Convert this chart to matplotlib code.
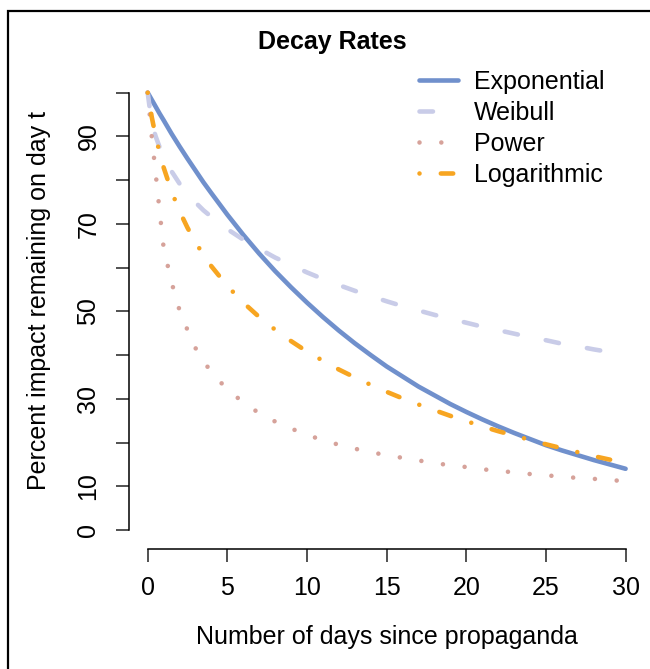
import matplotlib
matplotlib.use("Agg")
import matplotlib.pyplot as plt
from matplotlib.patches import Rectangle

# ------------------------------- DATA -------------------------------------- #
days = [0, 0.25, 0.5, 0.75, 1, 1.5, 2, 2.5, 3, 3.5, 4,
        5, 6, 7, 8, 9, 10, 11, 12, 13, 14, 15, 16, 17, 18, 19,
        20, 21, 22, 23, 24, 25, 26, 27, 28, 29, 30]

exponential = [100, 98.4, 96.8, 95.2, 93.7, 90.6, 87.7, 84.9, 82.2, 79.5, 77.0,
               72.1, 67.5, 63.2, 59.2, 55.5, 52.0, 48.7, 45.6, 42.7, 40.0, 37.4,
               35.1, 32.8, 30.8, 28.8, 27.0, 25.3, 23.7, 22.2, 20.8, 19.4, 18.2,
               17.1, 16.0, 15.0, 14.0]
weibull = [100, 93.0, 90.0, 87.5, 85.5, 82.0, 79.2, 76.9, 74.9, 73.1, 71.6,
           68.8, 66.4, 64.3, 62.3, 60.6, 58.9, 57.4, 56.0, 54.7, 53.5, 52.3,
           51.2, 50.2, 49.2, 48.3, 47.4, 46.5, 45.7, 44.9, 44.1, 43.4, 42.6,
           42.0, 41.3, 40.7, 40.0]
power = [100, 90.1, 81.5, 72.8, 64.5, 56.6, 50.2, 45.7, 41.6, 38.6, 36.1,
         32.1, 29.2, 26.7, 24.8, 23.2, 21.8, 20.5, 19.5, 18.6, 17.8, 17.1,
         16.5, 15.9, 15.3, 14.8, 14.4, 13.9, 13.5, 13.2, 12.8, 12.5, 12.2,
         11.9, 11.7, 11.4, 11.2]
logarithmic = [100, 94.5, 90.0, 86.2, 82.9, 77.4, 72.9, 69.1, 65.8, 62.9, 60.3,
               55.8, 52.0, 48.7, 45.8, 43.2, 40.8, 38.7, 36.7, 34.9, 33.2, 31.6,
               30.1, 28.7, 27.4, 26.1, 24.9, 23.7, 22.6, 21.6, 20.6, 19.6, 18.7,
               17.8, 16.9, 16.1, 15.3]

series_names = ["Exponential", "Weibull", "Power", "Logarithmic"]
x_ticks = [0, 5, 10, 15, 20, 25, 30]
y_ticks = [0, 10, 20, 30, 40, 50, 60, 70, 80, 90, 100]
y_tick_labels = ["0", "10", "", "30", "", "50", "", "70", "", "90", ""]

# ------------------------------ STYLE -------------------------------------- #
plt.rcParams["font.family"] = ["Liberation Sans", "DejaVu Sans"]
plt.rcParams["lines.scale_dashes"] = False

colors = ["#7090cc", "#c9cce8", "#d6a29a", "#f7a521"]
styles = ["-", (0, (9.7, 20.5)), (0, (0.01, 15.7)), (0, (0.01, 15.35, 8.9, 15.35))]
lw = 3.3
fs = 18

fig = plt.figure(figsize=(6.5, 6.69), dpi=100)
W, H = 650, 669
ax = fig.add_axes([128.6 / W, 1 - 547.5 / H, 516.1 / W, 472.3 / H])

for vals, name, c, ls in zip([exponential, weibull, power, logarithmic],
                             series_names, colors, styles):
    ax.plot(days, vals, color=c, linestyle=ls, linewidth=lw,
            dash_capstyle="round", solid_capstyle="round", label=name)

ax.set_xlim(-1.2, 31.2)
ax.set_ylim(-4, 104)

for s in ["top", "right"]:
    ax.spines[s].set_visible(False)
ax.spines["left"].set_bounds(0, 100)
ax.spines["bottom"].set_bounds(0, 30)
ax.spines["left"].set_linewidth(1.1)
ax.spines["bottom"].set_linewidth(1.1)
ax.spines["bottom"].set_position(("outward", 1))

ax.set_xticks(x_ticks)
ax.set_xticklabels([str(v) for v in x_ticks], fontsize=fs, va="center")
ax.set_yticks(y_ticks)
ax.set_yticklabels(y_tick_labels, fontsize=fs, rotation=90, ha="center", va="center")
ax.tick_params(axis="both", length=9.4, width=1.1, color="#222222")
ax.tick_params(axis="x", pad=18.5)
ax.tick_params(axis="y", pad=19.5)

# legend without box
ax.legend(loc="upper left", bbox_to_anchor=(419 / W, 1 - 70 / H),
          bbox_transform=fig.transFigure, frameon=False, fontsize=fs,
          handlelength=1.56, handletextpad=0.62, labelspacing=0.28,
          borderpad=0, borderaxespad=0)

# titles and axis labels
fig.text(332 / W, 1 - 41.5 / H, "Decay Rates", fontsize=fs, fontweight="bold",
         ha="center", va="center")
fig.text(387 / W, 1 - 637 / H, "Number of days since propaganda", fontsize=fs,
         ha="center", va="center")
fig.text(39.5 / W, 1 - 300 / H, "Percent impact remaining on day t", fontsize=fs,
         rotation=90, ha="center", va="center")

# outer frame: only its left and top edges fall inside the picture
fig.add_artist(Rectangle((7.5 / W, -0.2), 1.2, 1.2 - 11 / H, fill=False,
                         edgecolor="black", linewidth=1.6,
                         transform=fig.transFigure))

fig.savefig("out.png", dpi=100)
